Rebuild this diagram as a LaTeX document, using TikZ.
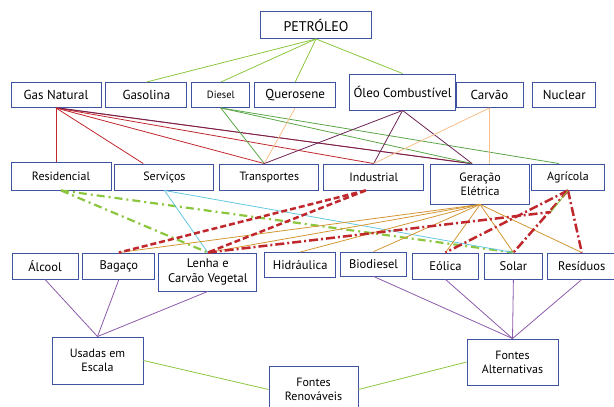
\documentclass[tikz,border=0pt]{standalone}
\usepackage{fontspec}
\setmainfont{PT Sans}
\usetikzlibrary{positioning}
\definecolor{frame}{RGB}{62,82,162}
\definecolor{leaf}{RGB}{140,198,63}
\definecolor{moss}{RGB}{90,165,70}
\definecolor{brick}{RGB}{192,39,45}
\definecolor{wine}{RGB}{110,35,85}
\definecolor{peach}{RGB}{248,190,140}
\definecolor{sky}{RGB}{100,200,225}
\definecolor{ochre}{RGB}{210,150,50}
\definecolor{violet}{RGB}{140,90,170}

\begin{document}
\begin{tikzpicture}[
        x=1pt, y=-1pt,
        node distance=4pt,
        every node/.style={font=\fontsize{12.5}{14.5}\selectfont},
        block/.style={draw=frame, fill=white, line width=0.9pt, minimum height=26pt,
                      inner sep=1pt, align=center},
        big/.style={font=\fontsize{13}{15}\selectfont},
        small/.style={font=\fontsize{12}{14}\selectfont},
        ln/.style={line width=0.8pt},
        gasl/.style={ln, brick},
        oill/.style={ln, wine},
        dsll/.style={ln, moss},
        coall/.style={ln, peach},
        petl/.style={ln, leaf},
        servl/.style={ln, sky},
        elecl/.style={ln, ochre},
        suml/.style={ln, violet},
        resl/.style={leaf, line width=2.2pt, dash pattern=on 8pt off 4pt on 2pt off 4pt},
        indl/.style={brick, line width=2.5pt, dash pattern=on 6pt off 3pt},
        agrl/.style={brick, line width=2.5pt, dash pattern=on 9pt off 3pt on 2pt off 3pt}
    ]
        \useasboundingbox (0,0) rectangle (614,407);

        % fontes
        \node[block, font=\fontsize{14}{16}\selectfont, minimum width=111pt, minimum height=27pt] (petroleo) at (316,25) {PETRÓLEO};
        \node[block, big, minimum width=90pt, minimum height=25pt] (gas) at (56,95) {Gas Natural};
        \node[block, big, minimum width=81pt, minimum height=25pt, right=4pt of gas] (gasolina) {Gasolina};
        \node[block, minimum width=58pt, minimum height=25pt, right=4pt of gasolina, font=\fontsize{10.5}{12}\selectfont] (diesel) {Diesel};
        \node[block, big, minimum width=81pt, minimum height=25pt, right=4pt of diesel] (querosene) {Querosene};
        \node[block, big, minimum width=106pt, minimum height=36pt, right=13pt of querosene, yshift=3pt] (oleo) {Óleo Combustível};
        \node[block, big, minimum width=67pt, minimum height=25pt] (carvao) at (489.5,95) {Carvão};
        \node[block, big, minimum width=63pt, minimum height=25pt, right=9pt of carvao] (nuclear) {Nuclear};

        % setores
        \node[block, small, minimum width=100pt, minimum height=28pt] (residencial) at (61,176) {Residencial};
        \node[block, small, minimum width=99pt, right=3pt of residencial, yshift=-1pt] (servicos) {Serviços};
        \node[block, small, minimum width=99pt, right=5pt of servicos] (transportes) {Transportes};
        \node[block, small, minimum width=100pt, right=4pt of transportes] (industrial) {Industrial};
        \node[block, small, minimum width=99pt, minimum height=40pt, right=6pt of industrial, yshift=-7pt] (geracao) {Geração\\Elétrica};
        \node[block, small, minimum width=73pt, right=1pt of geracao, yshift=7pt] (agricola) {Agrícola};

        % renovaveis
        \node[block, minimum width=66pt] (alcool) at (45,266) {Álcool};
        \node[block, minimum width=72pt, right=4pt of alcool] (bagaco) {Bagaço};
        \node[block, minimum width=98pt, minimum height=38pt, right=3pt of bagaco, yshift=-6pt] (lenha) {Lenha e\\Carvão Vegetal};
        \node[block, minimum width=71pt, minimum height=25pt, right=7pt of lenha, yshift=7pt] (hidraulica) {Hidráulica};
        \node[block, minimum width=66pt, minimum height=24pt, right=4pt of hidraulica, yshift=1pt] (biodiesel) {Biodiesel};
        \node[block, minimum width=66pt, right=5pt of biodiesel, yshift=-2pt] (eolica) {Eólica};
        \node[block, minimum width=58pt, right=5pt of eolica] (solar) {Solar};
        \node[block, minimum width=69pt, right=4pt of solar] (residuos) {Resíduos};

        \node[block, small, minimum width=91pt, minimum height=47pt] (usadas) at (97.5,360.5) {Usadas em\\Escala};
        \node[block, small, minimum width=89pt, minimum height=47pt] (renovaveis) at (313.5,389.5) {Fontes\\Renováveis};
        \node[block, small, minimum width=91pt, minimum height=46pt] (alternativas) at (512.5,362) {Fontes\\Alternativas};

        \coordinate (gtop) at ([xshift=-8pt]geracao.north);
        \coordinate (atop) at ([xshift=-9pt]agricola.north);
        \coordinate (ttop) at ([xshift=-5pt]transportes.north);
        \coordinate (kink) at (551,212);

        % petroleo
        \foreach \t in {gasolina, diesel, querosene, oleo}
            \draw[petl] (petroleo.south) -- (\t.north);

        % gas natural
        \draw[gasl] (gas.south) -- (gas.south |- residencial.north);
        \foreach \t in {servicos, ttop, industrial.north, gtop}
            \draw[gasl] (gas.south) -- (\t);
        \draw[oill] ([xshift=3pt]gas.south) -- ([xshift=-2pt]gtop);

        % diesel, querosene, oleo, carvao
        \foreach \t in {ttop, gtop, atop}
            \draw[dsll] (diesel.south) -- (\t);
        \draw[coall] (querosene.south) -- (ttop);
        \foreach \t in {ttop, industrial.north, gtop}
            \draw[oill] (oleo.south) -- (\t);
        \draw[coall] (carvao.south) -- (industrial.north);
        \draw[coall] (carvao.south) -- (carvao.south |- geracao.north);

        % setores -> fontes renovaveis
        \draw[resl] (residencial.south) -- (lenha.north);
        \draw[resl] (residencial.south) -- (solar.north);
        \draw[servl] (servicos.south) -- (lenha.north);
        \draw[servl] (servicos.south) -- (solar.north);
        \foreach \t in {bagaco, lenha, hidraulica, biodiesel, eolica, solar, residuos}
            \draw[elecl] (geracao.south) -- (\t.north);
        \draw[indl] ([xshift=-8pt]industrial.south) -- (bagaco.north);
        \draw[indl] ([xshift=-8pt]industrial.south) -- (lenha.north);
        \foreach \t in {eolica, solar, residuos}
            \draw[agrl] (agricola.south) -- (\t.north);
        \draw[agrl] (lenha.north) -- (kink);
        \draw[petl] (kink) -- (agricola.south);

        % agrupamento
        \foreach \t in {alcool, bagaco, lenha}
            \draw[suml] (\t.south) -- (usadas.north);
        \foreach \t in {biodiesel, eolica, solar, residuos}
            \draw[suml] (\t.south) -- (alternativas.north);
        \draw[petl] (usadas.east) -- (renovaveis.west);
        \draw[petl] (renovaveis.east) -- (alternativas.west);
    \end{tikzpicture}
\end{document}
